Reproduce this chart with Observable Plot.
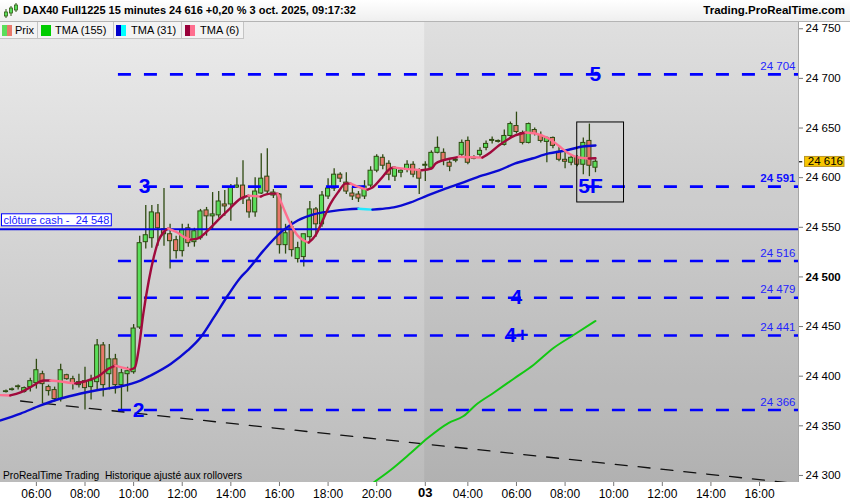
<!DOCTYPE html>
<html>
<head>
<meta charset="utf-8">
<script src="https://cdn.jsdelivr.net/npm/d3@7"></script>
<script src="https://cdn.jsdelivr.net/npm/@observablehq/plot@0.6"></script>
<style>
body { margin: 0; background: #fff; font-family: "Liberation Sans", Arial, sans-serif; }
#wrap { position: relative; width: 850px; height: 500px; overflow: hidden; }
#head { position: absolute; left: 0; top: 0; width: 850px; height: 21px; background: linear-gradient(#ffffff, #efefef); border-bottom: 1px solid #b4b4b4; }
#icon { position: absolute; left: 4px; top: 3px; }
#title { position: absolute; left: 23px; top: 4px; font-weight: bold; font-size: 11px; }
#site { position: absolute; right: 5px; top: 4px; font-weight: bold; font-size: 11.5px; }
#chart { position: absolute; left: 0; top: 22px; }
#bg { position: absolute; left: 0; top: 0; width: 798px; height: 460px; background: linear-gradient(#ebebeb, #bbbbbb); }
#legend { position: absolute; left: 0; top: 22px; height: 17px; display: flex; }
.item { position: relative; height: 16px; background: #f3f3f3; border-right: 1px solid #c4c4c4; border-bottom: 1px solid #c4c4c4; font-size: 11px; line-height: 16px; }
.sw { position: absolute; top: 3px; width: 5px; height: 11px; }
.lab { position: absolute; top: 0; }
#water { position: absolute; left: 3px; top: 469px; font-size: 11px; white-space: pre; transform: scaleX(0.93); transform-origin: left; }
</style>
</head>
<body>
<div id="wrap">
  <div id="head">
    <svg id="icon" width="14" height="16">
      <line x1="2" y1="6" x2="2" y2="15" stroke="#2f5a12"/><rect x="0.5" y="9" width="3" height="4" fill="#5ade5a" stroke="#2f5a12" stroke-width="0.8"/>
      <line x1="7" y1="3" x2="7" y2="13" stroke="#2f5a12"/><rect x="5.5" y="5" width="3" height="5" fill="#5ade5a" stroke="#2f5a12" stroke-width="0.8"/>
      <line x1="12" y1="0" x2="12" y2="9" stroke="#2f5a12"/><rect x="10.5" y="2" width="3" height="5" fill="#5ade5a" stroke="#2f5a12" stroke-width="0.8"/>
    </svg>
    <span id="title">DAX40 Full1225 15 minutes 24 616 +0,20 % 3 oct. 2025, 09:17:32</span>
    <span id="site">Trading.ProRealTime.com</span>
  </div>
  <div id="chart"><div id="bg"></div></div>
  <div id="legend">
    <div class="item" style="width:37px"><span class="sw" style="left:2px;background:#5ade5a"></span><span class="sw" style="left:7px;background:#e8786a"></span><span class="lab" style="left:15px">Prix</span></div>
    <div class="item" style="width:75px"><span class="sw" style="left:3px;width:10px;background:#00cc00"></span><span class="lab" style="left:17px">TMA (155)</span></div>
    <div class="item" style="width:67px"><span class="sw" style="left:2px;background:#0000cc"></span><span class="sw" style="left:7px;background:#00ffff"></span><span class="lab" style="left:17px">TMA (31)</span></div>
    <div class="item" style="width:61px"><span class="sw" style="left:3px;background:#99003a"></span><span class="sw" style="left:8px;background:#ff6f8f"></span><span class="lab" style="left:18px">TMA (6)</span></div>
  </div>
  <div id="water">ProRealTime Trading  Historique ajusté aux rollovers</div>
</div>
<script>
// 15-minute bars, bar 0 = 06:00 on day 1, day 2 session starts at bar 64
const firstBar = -5;
const candleOpen = [
  24384, 24386, 24389, 24384, 24389,
  24393, 24402, 24389, 24386, 24377, 24401, 24397, 24391, 24395, 24389,
  24394, 24431, 24402, 24417, 24391, 24402, 24404, 24449, 24535, 24539,
  24564, 24548, 24543, 24537, 24526, 24549, 24535, 24539, 24567, 24561,
  24562, 24573, 24573, 24590, 24592, 24577, 24565, 24584, 24601, 24582,
  24583, 24532, 24550, 24518, 24520, 24540, 24568, 24553, 24581, 24589,
  24603, 24595, 24584, 24583, 24581, 24592, 24607, 24620, 24614, 24601,
  24605, 24608, 24613, 24607, 24612, 24610, 24625, 24625, 24615, 24617,
  24623, 24637, 24619, 24623, 24630, 24637, 24637, 24633, 24642, 24652,
  24645, 24635, 24648, 24642, 24636, 24640, 24626, 24618, 24615, 24620,
  24613, 24637, 24610
];
const candleHigh = [
  24386, 24388, 24391, 24389, 24398,
  24417, 24405, 24391, 24389, 24412, 24402, 24400, 24402, 24409, 24401,
  24437, 24434, 24432, 24422, 24407, 24409, 24452, 24541, 24572, 24572,
  24573, 24589, 24553, 24541, 24553, 24553, 24549, 24568, 24570, 24585,
  24586, 24587, 24593, 24600, 24617, 24581, 24600, 24624, 24629, 24588,
  24584, 24553, 24556, 24535, 24543, 24576, 24570, 24586, 24599, 24609,
  24605, 24605, 24590, 24586, 24597, 24611, 24623, 24623, 24617, 24611,
  24608, 24617, 24616, 24609, 24616, 24627, 24641, 24629, 24617, 24620,
  24638, 24641, 24622, 24630, 24637, 24641, 24638, 24648, 24656, 24666,
  24647, 24655, 24650, 24646, 24641, 24641, 24632, 24626, 24622, 24622,
  24640, 24654, 24618
];
const candleLow = [
  24383, 24385, 24386, 24383, 24384,
  24387, 24372, 24380, 24374, 24374, 24396, 24386, 24388, 24366, 24376,
  24386, 24379, 24386, 24382, 24364, 24384, 24402, 24447, 24528, 24529,
  24531, 24531, 24508, 24518, 24520, 24530, 24530, 24537, 24541, 24548,
  24559, 24561, 24556, 24589, 24573, 24559, 24560, 24583, 24583, 24579,
  24523, 24523, 24520, 24514, 24510, 24535, 24540, 24550, 24578, 24586,
  24595, 24583, 24577, 24575, 24578, 24590, 24605, 24608, 24597, 24596,
  24600, 24605, 24600, 24583, 24596, 24608, 24624, 24612, 24606, 24615,
  24620, 24613, 24618, 24620, 24627, 24634, 24635, 24632, 24640, 24644,
  24633, 24634, 24642, 24635, 24615, 24629, 24616, 24609, 24612, 24611,
  24603, 24601, 24605
];
const candleClose = [
  24384, 24386, 24389, 24388, 24395,
  24406, 24392, 24385, 24377, 24406, 24397, 24393, 24394, 24388, 24395,
  24431, 24391, 24417, 24391, 24403, 24405, 24448, 24534, 24542, 24565,
  24549, 24543, 24536, 24526, 24547, 24534, 24546, 24566, 24561, 24563,
  24576, 24571, 24590, 24592, 24579, 24565, 24586, 24599, 24586, 24585,
  24532, 24544, 24527, 24529, 24543, 24568, 24553, 24582, 24589, 24603,
  24599, 24586, 24581, 24579, 24591, 24607, 24621, 24612, 24603, 24609,
  24607, 24613, 24603, 24599, 24613, 24625, 24630, 24617, 24611, 24618,
  24635, 24615, 24620, 24627, 24634, 24638, 24636, 24642, 24654, 24646,
  24635, 24654, 24644, 24637, 24640, 24632, 24618, 24616, 24620, 24613,
  24635, 24612, 24616
];

// indicator lines (bar position, value)
const tma6Bar = [-5.9, -4.3, -2.6, -0.5, 1.2, 2.3, 4.0, 5.1, 6.4, 8.4, 10.1, 11.9, 13.0, 14.2, 15.5, 16.2, 16.8, 17.6, 18.5, 19.3,
  20.1, 20.9, 21.7, 23.2, 24.5, 25.4, 26.5, 28.2, 29.8, 31.5, 33.6, 34.9, 36.9, 38.5, 39.7, 40.7, 41.8, 43.0, 44.0, 44.8,
  45.9, 47.1, 48.4, 49.6, 50.9, 51.7, 53.3, 54.5, 55.3, 56.6, 58.3, 58.8, 61.6, 63.4, 65.0, 65.7, 68.2, 69.5, 71.4, 73.4,
  74.7, 76.1, 78.8, 80.5, 82.1, 84.3, 85.9, 87.6, 89.2, 90.9, 92.0];
const tma6Val = [24380.9, 24380.6, 24383.6, 24390.6, 24395.6, 24395.6, 24394.7, 24393.7, 24392.7, 24395.6, 24399.6, 24407.6, 24410.6, 24408.6, 24406.6, 24408.6, 24425.7, 24463, 24496.3, 24519.5,
  24536.6, 24544.7, 24548.7, 24544.7, 24539.6, 24537.6, 24538.6, 24546.6, 24556.7, 24566.8, 24578.9, 24581.9, 24580.9, 24583.9, 24583.9, 24568.8, 24553.7, 24541.6, 24536.6, 24534.6,
  24541.6, 24556.7, 24573.8, 24584.9, 24594, 24594, 24590, 24588, 24590, 24598.2, 24609.3, 24610.3, 24608.3, 24607.5, 24609, 24614.3, 24619.3, 24621, 24620.6, 24620.2,
  24625.4, 24632.4, 24642.5, 24645.5, 24644.5, 24639.5, 24632.4, 24624.4, 24620.3, 24619.3, 24619.6];
const tma31Bar = [-5.9, -2.6, 0.7, 4.0, 7.3, 10.6, 13.8, 17.1, 18.8, 22.1, 24.9, 27.0, 29.2, 31.5, 33.6, 34.7, 37.4, 40.2, 43.0, 45.6,
  48.4, 51.2, 53.0, 54.2, 55.3, 56.6, 58.8, 61.6, 64.4, 67.0, 69.8, 73.4, 76.1, 78.8, 81.6, 84.3, 87.1, 89.9, 92.0];
const tma31Val = [24355.4, 24362.4, 24370.5, 24377.5, 24382.6, 24386.6, 24389.6, 24395.6, 24400.7, 24412.3, 24425.9, 24439, 24459.2, 24481.3, 24499.5, 24506.5, 24526.7, 24544.8, 24556.9, 24563,
  24566, 24568, 24568.6, 24568.2, 24567.8, 24568.4, 24570, 24575.1, 24582.1, 24588.2, 24594.2, 24602.2, 24607.3, 24614.3, 24619.3, 24624.4, 24627.4, 24631.4, 24632.4];
const tma155Bar = [54.6, 55.5, 58.3, 61.6, 64.4, 67.8, 70.3, 72.3, 75.2, 78.5, 81.8, 85.1, 88.4, 92.0];
const tma155Val = [24288.9, 24292.9, 24305.5, 24322.6, 24337.7, 24352.8, 24359.9, 24371, 24383.1, 24397.2, 24411.3, 24428.4, 24441.5, 24455.6];

const trendBar = [-2.6, 125.4];
const trendVal = [24375, 24291.6];

const levels = [24704, 24591, 24516, 24479, 24441, 24366];
const levelStart = 13.5;
const cashClose = 24548;
const lastPrice = 24616;

const waveText = ["5", "3", "4", "4+", "2", "5F"];
const waveBar = [92.0, 17.8, 79.0, 79.0, 16.8, 91.2];
const wavePrice = [24704, 24591, 24479, 24441, 24366, 24591];

const boxBars = [89.0, 96.7];
const boxPrices = [24575, 24655.6];

const tickBars = [0, 8, 16, 24, 32, 40, 48, 56, 64, 71, 79, 87, 95, 103, 111, 119];
const tickLabels = ["06:00", "08:00", "10:00", "12:00", "14:00", "16:00", "18:00", "20:00", "03",
  "04:00", "06:00", "08:00", "10:00", "12:00", "14:00", "16:00"];
const priceTicks = [24300, 24350, 24400, 24450, 24500, 24550, 24600, 24650, 24700, 24750];

const sessionBreak = 63.9;
const xMin = -5.905, xMax = 125.41;
const yMin = 24292.9, yMax = 24756.3;

const fmt = d => d3.format(",")(d).replace(",", " ");

const candles = candleOpen.map((o, k) => ({
  bar: firstBar + k, open: o, high: candleHigh[k], low: candleLow[k], close: candleClose[k]
}));

function colorRuns(bars, vals, up, down) {
  const pts = [];
  let run = -1, prev = null;
  for (let k = 1; k < bars.length; k++) {
    const c = vals[k] >= vals[k - 1] ? up : down;
    if (c !== prev) {
      run++;
      pts.push({bar: bars[k - 1], val: vals[k - 1], run, color: c});
      prev = c;
    }
    pts.push({bar: bars[k], val: vals[k], run, color: c});
  }
  return pts;
}

const tma6 = colorRuns(tma6Bar, tma6Val, "#a00a3c", "#ff6f8f");
const tma31 = colorRuns(tma31Bar, tma31Val, "#0a0ad2", "#22e8ff");
const tma155 = tma155Bar.map((b, k) => ({bar: b, val: tma155Val[k]}));
const trend = trendBar.map((b, k) => ({bar: b, val: trendVal[k]}));
const waves = waveText.map((t, k) => ({text: t, bar: waveBar[k], price: wavePrice[k]}));

const wickColor = "#2f4a12";

let chart = Plot.plot({
  width: 850,
  height: 478,
  marginTop: 0,
  marginLeft: 0,
  marginRight: 52,
  marginBottom: 18,
  style: {background: "transparent", fontFamily: "'Liberation Sans', Arial, sans-serif", fontSize: "12px", color: "#000", overflow: "visible"},
  x: {type: "linear", domain: [xMin, xMax], ticks: tickBars, tickFormat: b => tickLabels[tickBars.indexOf(b)], tickSize: 4, tickPadding: 3, label: null},
  y: {domain: [yMin, yMax], axis: "right", ticks: priceTicks, tickFormat: fmt, tickSize: 4, tickPadding: 3, label: null},
  marks: [
    Plot.rect([0], {x1: () => sessionBreak, x2: () => xMax, y1: () => yMin, y2: () => yMax, fill: "#000", fillOpacity: 0.05}),
    Plot.line(trend, {x: "bar", y: "val", stroke: "#111", strokeWidth: 1.3, strokeDasharray: "12,11", clip: true}),
    Plot.ruleX(candles, {x: "bar", y1: "low", y2: "high", stroke: wickColor, strokeWidth: 1.3}),
    Plot.rect(candles, {
      x1: d => d.bar - 0.34,
      x2: d => d.bar + 0.34,
      y1: d => Math.min(d.open, d.close),
      y2: d => Math.max(d.open, d.close) + (d.open === d.close ? 0.8 : 0),
      fill: d => d.close >= d.open ? "#5ade5a" : "#e8786a",
      stroke: wickColor,
      strokeWidth: 1
    }),
    Plot.ruleY(levels, {x1: () => levelStart, x2: () => xMax, stroke: "#0000ff", strokeWidth: 2.6, strokeDasharray: "13,13"}),
    Plot.ruleY([cashClose], {x1: () => xMin, x2: () => xMax, stroke: "#0000e6", strokeWidth: 2.2}),
    Plot.line(tma155, {x: "bar", y: "val", stroke: "#12c812", strokeWidth: 2, curve: "monotone-x", clip: true}),
    Plot.line(tma31, {x: "bar", y: "val", z: "run", stroke: "color", strokeWidth: 2.4, curve: "monotone-x"}),
    Plot.line(tma6, {x: "bar", y: "val", z: "run", stroke: "color", strokeWidth: 2.4, curve: "monotone-x"}),
    Plot.rect([0], {x1: () => boxBars[0], x2: () => boxBars[1], y1: () => boxPrices[0], y2: () => boxPrices[1], fill: "none", stroke: "#000", strokeWidth: 1}),
    Plot.text(levels.filter(d => d !== 24591), {x: () => xMax, y: d => d, text: fmt, textAnchor: "end", dx: -3, dy: -8, fill: "#2323ff", fontSize: 11.5}),
    Plot.text([24591], {x: () => xMax, y: d => d, text: fmt, textAnchor: "end", dx: -3, dy: -8, fill: "#1010ff", fontSize: 11.5, fontWeight: "bold"}),
    Plot.text([cashClose], {x: () => xMin, y: d => d, text: d => "clôture cash -\u00a0 " + fmt(d), textAnchor: "start", dx: 3, dy: -9, fill: "#1a1aff", fontSize: 11}),
    Plot.text(waves, {x: "bar", y: "price", text: "text", fill: "#0000ff", fontSize: 21, fontWeight: "bold", textAnchor: "middle", lineAnchor: "middle"}),
    Plot.ruleY([lastPrice], {x1: () => xMax, x2: () => xMax + 0.7, stroke: "#000", strokeWidth: 1.2}),
    Plot.text([lastPrice], {x: () => xMax, y: d => d, text: d => "\u2009" + fmt(d), textAnchor: "start", dx: 7, fill: "#000", fontSize: 11.5}),
    Plot.ruleX([xMax], {stroke: "#a6a6a6"})
  ]
});

const holder = document.querySelector("#chart");
holder.append(chart);
chart.style.position = "relative";

function boxBehind(t, padX, padY, fill, stroke) {
  const b = t.getBBox();
  const r = document.createElementNS("http://www.w3.org/2000/svg", "rect");
  r.setAttribute("x", b.x - padX);
  r.setAttribute("y", b.y - padY);
  r.setAttribute("width", b.width + 2 * padX);
  r.setAttribute("height", b.height + 2 * padY);
  r.setAttribute("fill", fill);
  r.setAttribute("stroke", stroke);
  if (t.getAttribute("transform")) r.setAttribute("transform", t.getAttribute("transform"));
  t.parentNode.insertBefore(r, t);
}

const axisPrices = new Set(priceTicks.map(fmt));
chart.querySelectorAll("text").forEach(t => {
  const s = t.textContent;
  if (s === "03") {
    t.setAttribute("font-weight", "bold");
    t.setAttribute("font-size", "13");
    t.removeAttribute("dy");
    t.setAttribute("y", "0.6em");
  }
  if (s.startsWith("clôture")) boxBehind(t, 2, 0, "#fff", "#0000ff");
  if (s === "\u2009" + fmt(lastPrice)) boxBehind(t, 1, -1, "#f7c600", "#b8962a");
});
chart.querySelectorAll("g[aria-label^='y-axis'] text").forEach(t => {
  if (axisPrices.has(t.textContent)) {
    t.setAttribute("font-size", "11.5");
    if (t.textContent === "24 500") t.setAttribute("font-weight", "bold");
  }
});
chart.querySelectorAll("g[aria-label^='x-axis'] line, g[aria-label^='y-axis'] line, g[aria-label^='x-axis'] path, g[aria-label^='y-axis'] path").forEach(l => l.setAttribute("stroke", "#777"));
</script>
</body>
</html>
